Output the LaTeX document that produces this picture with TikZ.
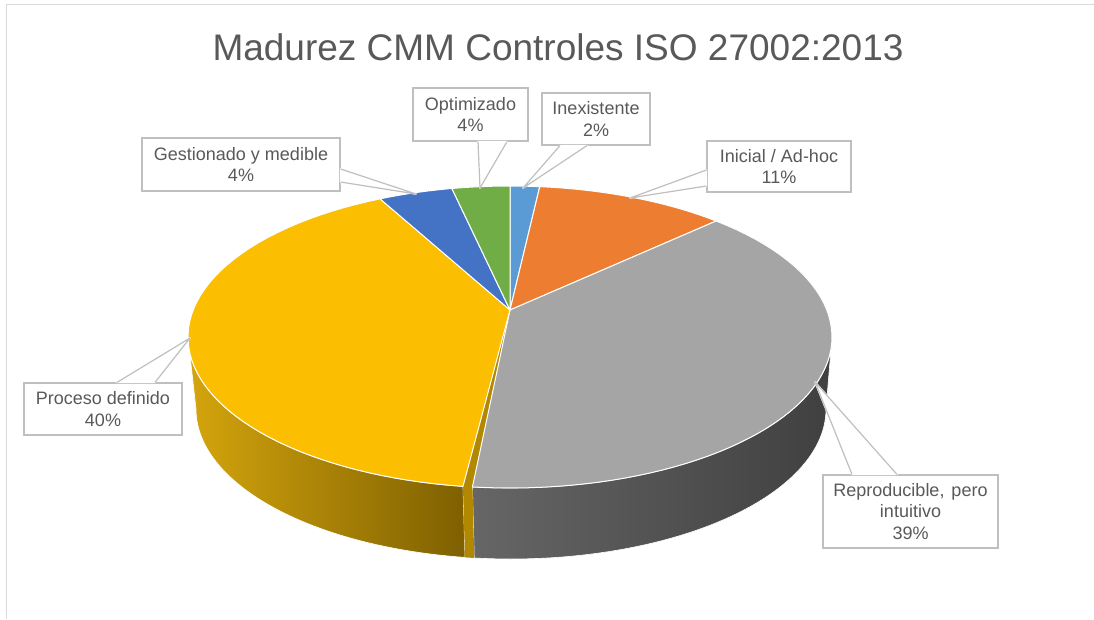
\documentclass[tikz,border=0pt]{standalone}
\usepackage{fontspec}
\setmainfont{Liberation Sans}
\definecolor{txtgray}{HTML}{595959}
\definecolor{boxgray}{HTML}{BFBFBF}
\definecolor{framegray}{HTML}{D9D9D9}
\definecolor{inexist}{HTML}{5B9BD5}
\definecolor{inicial}{HTML}{ED7D31}
\definecolor{reprod}{HTML}{A5A5A5}
\definecolor{proceso}{HTML}{FBBE00}
\definecolor{gestion}{HTML}{4472C4}
\definecolor{optim}{HTML}{70AD47}
\definecolor{facegold}{HTML}{D2A000}
% pointer of a data label: base 1, base 2, tip
\newcommand{\labelptr}[3]{%
 \filldraw[fill=white, draw=white, line width=1.6pt, line join=round] #1 -- #3 -- #2 -- cycle;
 \draw[lblline] #1 -- #3 -- #2;}
\begin{document}
\begin{tikzpicture}[x=1pt, y=-1pt,
  lbl/.style={draw=boxgray, line width=1.2pt, fill=white, text=txtgray, align=center,
    inner sep=0pt, font=\fontsize{18}{21.5}\selectfont},
  lblline/.style={draw=boxgray, line width=1.2pt, line join=round},
  slice edge/.style={draw=white, line width=1pt, line join=round}]
 \useasboundingbox (0,0) rectangle (1094,619);
 \draw[framegray, line width=1pt] (6,619) -- (6,4) -- (1094,4);
 \node[text=txtgray, font=\fontsize{37}{44}\selectfont, anchor=base] (title) at (558,60) {Madurez CMM Controles ISO 27002:2013};
 % side of the pie
 \shade[left color=facegold!95!white, right color=facegold!60!black, draw=white, line width=.6pt]
  plot[domain=180:261.6, samples=60] ({510+322*cos(\x)},{337-151*sin(\x)})
  -- plot[domain=261.6:180, samples=60] ({511+315*cos(\x)},{409-150*sin(\x)}) -- cycle;
 \shade[left color=black!60, right color=black!75, draw=white, line width=.6pt]
  plot[domain=263.3:360, samples=60] ({510+322*cos(\x)},{337-151*sin(\x)})
  -- plot[domain=360:263.3, samples=60] ({511+315*cos(\x)},{409-150*sin(\x)}) -- cycle;
 \coordinate (apex) at (510,310);
 \fill[facegold!85!black] (apex) -- ({510+322*cos(261.6)},{337-151*sin(261.6)})
  -- ({511+315*cos(261.6)},{409-150*sin(261.6)}) -- ({511+315*cos(263.3)},{409-150*sin(263.3)})
  -- ({510+322*cos(263.3)},{337-151*sin(263.3)}) -- cycle;
 % top of the pie
 \foreach \a/\b/\c in {84.7/90/inexist, 50.2/84.7/inicial, -96.7/50.2/reprod,
   113.8/261.6/proceso, 100.4/113.8/gestion, 90/100.4/optim}
  \filldraw[fill=\c, slice edge] (apex) -- plot[domain=\a:\b, samples=60] ({510+322*cos(\x)},{337-151*sin(\x)}) -- cycle;
 % data labels
 \node[lbl, minimum width=115pt, minimum height=53pt] (opt) at (470.5,114.5) {Optimizado\\4\%};
 \node[lbl, minimum width=108pt, minimum height=52pt] (inex) at (596,119) {Inexistente\\2\%};
 \node[lbl, minimum width=144pt, minimum height=51pt] (inic) at (779,166.5) {Inicial / Ad-hoc\\11\%};
 \node[lbl, minimum width=198pt, minimum height=53pt] (gest) at (241,164.5) {Gestionado y medible\\4\%};
 \node[lbl, minimum width=158pt, minimum height=52pt] (proc) at (103,409) {Proceso definido\\40\%};
 \node[lbl, minimum width=175pt, minimum height=73pt] (repr) at (910.5,511.5) {Reproducible,\hspace{2pt} pero\\intuitivo\\39\%};
 \coordinate (tOpt) at (480,188);
 \coordinate (tInex) at (523,188);
 \coordinate (tInic) at (630,198);
 \coordinate (tGest) at (416,194);
 \coordinate (tProc) at (190,338);
 \coordinate (tRepr) at (815,382);
 \labelptr{([xshift=7.5pt]opt.south)}{([xshift=36.5pt]opt.south)}{(tOpt)}
 \labelptr{([xshift=-36pt]inex.south)}{([xshift=-9pt]inex.south)}{(tInex)}
 \labelptr{([yshift=-3.5pt]inic.west)}{([yshift=-19.5pt]inic.west)}{(tInic)}
 \labelptr{([yshift=-4.5pt]gest.east)}{([yshift=-17.5pt]gest.east)}{(tGest)}
 \labelptr{([xshift=14pt]proc.north)}{([xshift=52pt]proc.north)}{(tProc)}
 \labelptr{([xshift=-58.5pt]repr.north)}{([xshift=-13.5pt]repr.north)}{(tRepr)}
\end{tikzpicture}
\end{document}
